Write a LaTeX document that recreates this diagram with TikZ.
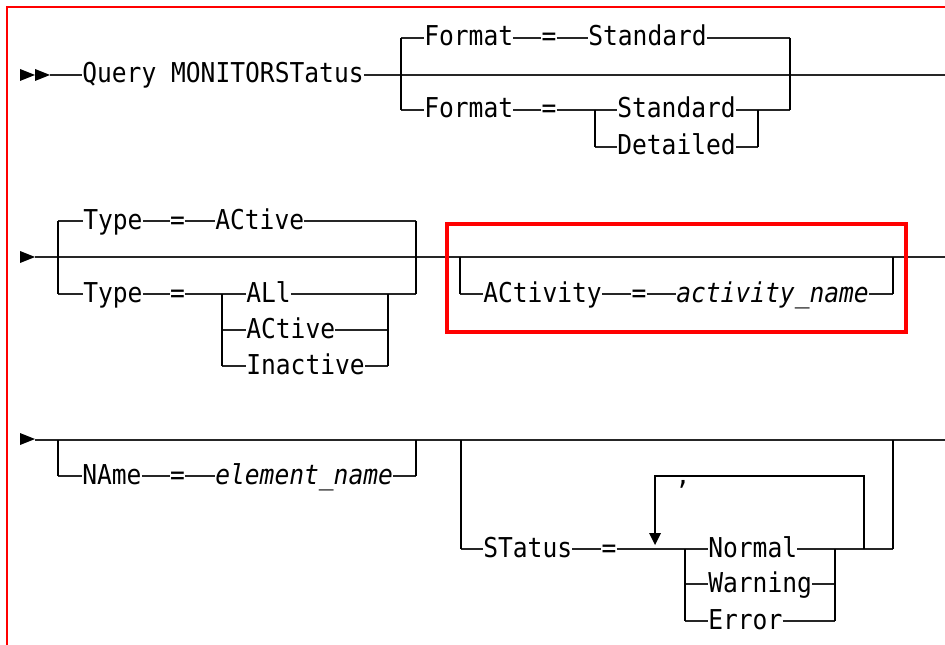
\documentclass[tikz,border=0pt]{standalone}
\usepackage{fontspec}
\newfontfamily\synfont{DejaVu Sans Mono}[FakeStretch=0.9]
\tikzset{
  kw/.style={font=\synfont\fontsize{20.5pt}{24pt}\selectfont, inner sep=0pt, text height=12pt, text depth=0pt, anchor=west},
  var/.style={kw, font=\synfont\fontsize{20.5pt}{24pt}\selectfont\itshape},
  eq/.style={kw, anchor=center},
  bar/.style={line width=2.2pt},
  ln/.style={line width=1.1pt, black!85},
}
\newcommand{\tri}[2]{\fill (#1,#2-6) -- (#1+15,#2) -- (#1,#2+6) -- cycle;}
\begin{document}
\begin{tikzpicture}[x=0.75pt, y=-0.75pt]
\useasboundingbox (0,0) rectangle (945,645);
\draw[red, line width=2pt] (945,7) -- (7,7) -- (7,645);

% first line
\tri{20}{75} \tri{35}{75}
\node[kw] (query) at (82,75) {Query MONITORSTatus};
\coordinate (end1) at (945,75);
\draw[ln] (50,75) -- (query.west);
\draw[ln] (query.east) -- (end1);

\node[kw] (fmt1) at (424,38) {Format};
\node[eq] (eq1) at (549,38) {=};
\node[kw] (std1) at (588,38) {Standard};
\node[kw] (fmt2) at (424,110) {Format};
\node[eq] (eq2) at (549,110) {=};
\node[kw] (std2) at (617,110) {Standard};
\node[kw] (det) at (617,147) {Detailed};
\draw[ln] (fmt1.east) -- (eq1.west) (eq1.east) -- (std1.west) (std1.east) -- (790,38);
\draw[ln] (401,38) -- (fmt1.west) (401,110) -- (fmt2.west);
\draw[ln] (fmt2.east) -- (eq2.west) (eq2.east) -- (595,110);
\draw[ln] (595,110) -- (std2.west) (595,147) -- (det.west);
\draw[ln] (std2.east) -- (758,110) -- (790,110) (det.east) -- (758,147);
\draw[bar] (401,38) -- (401,110);
\draw[bar] (790,38) -- (790,110);
\draw[bar] (595,110) -- (595,147);
\draw[bar] (758,110) -- (758,147);

% second line
\tri{20}{257}
\coordinate (end2) at (945,257);
\draw[ln] (35,257) -- (end2);

\node[kw] (type1) at (83,221) {Type};
\node[eq] (eq3) at (177.5,221) {=};
\node[kw] (act1) at (215,221) {ACtive};
\node[kw] (type2) at (83,294) {Type};
\node[eq] (eq4) at (177.5,294) {=};
\node[kw] (all) at (246,294) {ALl};
\node[kw] (act2) at (246,330) {ACtive};
\node[kw] (inact) at (246,366) {Inactive};
\draw[ln] (58,221) -- (type1.west) (type1.east) -- (eq3.west) (eq3.east) -- (act1.west) (act1.east) -- (416,221);
\draw[ln] (58,294) -- (type2.west) (type2.east) -- (eq4.west) (eq4.east) -- (222,294);
\foreach \n/\y in {all/294, act2/330, inact/366} {
  \draw[ln] (222,\y) -- (\n.west) (\n.east) -- (388,\y);
}
\draw[ln] (388,294) -- (416,294);
\draw[bar] (58,221) -- (58,294);
\draw[bar] (416,221) -- (416,294);
\draw[bar] (222,294) -- (222,366);
\draw[bar] (388,294) -- (388,366);

\node[kw] (actv) at (483,294) {ACtivity};
\node[eq] (eq5) at (639,294) {=};
\node[var] (actname) at (676,294) {activity\_name};
\draw[ln] (460,294) -- (actv.west) (actv.east) -- (eq5.west) (eq5.east) -- (actname.west) (actname.east) -- (893,294);
\draw[bar] (460,257) -- (460,294);
\draw[bar] (893,257) -- (893,294);
\draw[red, line width=3.5pt] (447,224) rectangle (906,332);

% third line
\tri{20}{439}
\coordinate (end3) at (945,440);
\draw[ln] (35,440) -- (end3);

\node[kw] (name) at (82,476) {NAme};
\node[eq] (eq6) at (177.5,476) {=};
\node[var] (elname) at (215,476) {element\_name};
\draw[ln] (58,476) -- (name.west) (name.east) -- (eq6.west) (eq6.east) -- (elname.west) (elname.east) -- (416,476);
\draw[bar] (58,440) -- (58,476);
\draw[bar] (416,440) -- (416,476);

\node[kw] (stat) at (483,549) {STatus};
\node[eq] (eq7) at (609,549) {=};
\node[eq] (comma) at (683,476) {,};
\node[kw] (norm) at (708,549) {Normal};
\node[kw] (warn) at (708,584) {Warning};
\node[kw] (err) at (708,621) {Error};
\draw[ln] (461,549) -- (stat.west) (stat.east) -- (eq7.west) (eq7.east) -- (685,549);
\foreach \n/\y in {norm/549, warn/584, err/621} {
  \draw[ln] (685,\y) -- (\n.west) (\n.east) -- (835,\y);
}
\draw[ln] (835,549) -- (893,549);
\draw[bar] (461,440) -- (461,549);
\draw[bar] (893,440) -- (893,549);
\draw[bar] (685,549) -- (685,621);
\draw[bar] (835,549) -- (835,621);
% repeat loop
\draw[bar] (864,549) -- (864,476) -- (655,476) -- (655,534);
\fill (649,533) -- (661,533) -- (655,545) -- cycle;
\end{tikzpicture}
\end{document}
